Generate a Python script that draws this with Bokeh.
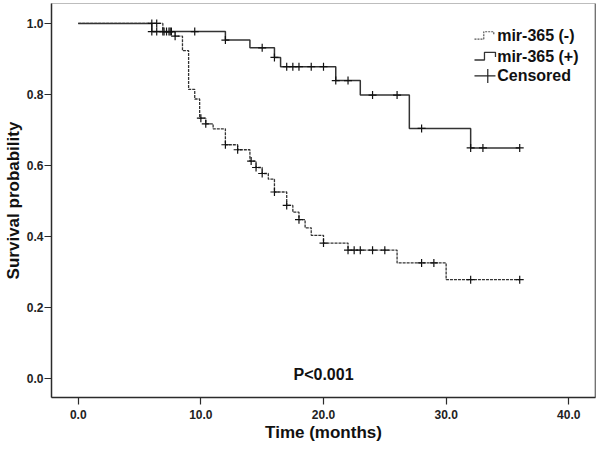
import numpy as np
from bokeh.plotting import figure
from bokeh.models import Range1d, FixedTicker, PrintfTickFormatter, Span
from bokeh.core.properties import value
from bokeh.embed import file_html
from bokeh.resources import INLINE

# ---- data ----
neg_times = [0, 6.9, 7.9, 8.5, 9.0, 9.5, 9.9, 10.4, 11.0, 12.0, 13.0, 14.0, 14.5, 15.0,
             15.5, 16.0, 17.0, 17.5, 18.0, 18.5, 19.0, 20.0, 22.0, 26.0, 30.0, 36.0]
neg_surv = [1.0, 0.977, 0.964, 0.923, 0.814, 0.787, 0.733, 0.717, 0.703, 0.658, 0.644, 0.612,
            0.594, 0.577, 0.561, 0.525, 0.487, 0.468, 0.447, 0.424, 0.403, 0.381, 0.361,
            0.325, 0.278, 0.278]
neg_censor = [6.0, 6.4, 6.9, 7.2, 7.5, 7.9, 10.0, 10.4, 12.0, 13.0, 14.1, 14.5, 15.0, 16.0,
              17.0, 18.0, 20.0, 22.0, 22.5, 23.0, 24.0, 25.0, 28.0, 29.0, 32.0, 36.0]

pos_times = [0, 6.0, 12.0, 14.0, 16.0, 16.5, 21.0, 23.0, 27.0, 32.0, 36.0]
pos_surv = [1.0, 0.977, 0.953, 0.931, 0.904, 0.878, 0.839, 0.798, 0.704, 0.649, 0.649]
pos_censor = [6.0, 6.4, 7.0, 7.4, 7.6, 9.5, 12.0, 15.0, 16.0, 17.0, 17.5, 18.0, 19.0, 20.0,
              21.0, 22.0, 24.0, 26.0, 28.0, 32.0, 33.0, 36.0]

x_ticks = [0, 10, 20, 30, 40]
y_ticks = [0.0, 0.2, 0.4, 0.6, 0.8, 1.0]
legend_labels = ["mir-365 (-)", "mir-365 (+)", "Censored"]
p_text = "P<0.001"


def surv_at(times, surv, t):
    idx = np.searchsorted(np.array(times), np.array(t), side="right") - 1
    return list(np.array(surv)[idx])


FONT = value("Liberation Sans")
INK = "#2b2b2b"
X_END = 42.18

p = figure(width=597, height=444, output_backend="svg", toolbar_location=None,
           min_border_left=40, min_border_right=2, min_border_top=3, min_border_bottom=40,
           x_range=Range1d(-2.18, X_END), y_range=Range1d(-0.054, 1.056))

p.xgrid.visible = False
p.ygrid.visible = False
p.background_fill_color = "white"
p.border_fill_color = "white"
p.outline_line_color = "#bdbdbd"
p.outline_line_width = 1

for ax in (p.xaxis[0], p.yaxis[0]):
    ax.axis_line_color = INK
    ax.axis_line_width = 1.5
    ax.major_tick_line_color = INK
    ax.major_tick_line_width = 1.2
    ax.major_tick_in = 0
    ax.major_tick_out = 7
    ax.minor_tick_line_color = None
    ax.major_label_text_font = "Liberation Sans"
    ax.major_label_text_font_style = "bold"
    ax.major_label_text_font_size = "12px"
    ax.major_label_text_color = "#222222"
    ax.axis_label_text_font = "Liberation Sans"
    ax.axis_label_text_font_style = "bold"
    ax.axis_label_text_font_size = "17px"
    ax.axis_label_text_color = "#111111"
    ax.formatter = PrintfTickFormatter(format="%.1f")

p.xaxis.ticker = FixedTicker(ticks=x_ticks)
p.yaxis.ticker = FixedTicker(ticks=y_ticks)
p.xaxis.axis_label = "Time (months)"
p.yaxis.axis_label = "Survival probability"
p.xaxis.major_label_standoff = 5
p.yaxis.major_label_standoff = 1
p.xaxis.axis_label_standoff = 1
p.yaxis.axis_label_standoff = 1

# right frame edge dark
p.add_layout(Span(location=X_END, dimension="height", line_color=INK, line_width=1.5))

# curves
p.step(neg_times, neg_surv, mode="after", line_color="#333333", line_width=1.3,
       line_dash="3 1")
p.step(pos_times, pos_surv, mode="after", line_color="#333333", line_width=1.5)

# censor marks
p.scatter(neg_censor, surv_at(neg_times, neg_surv, neg_censor), marker="cross", size=8,
          line_color="#111111", line_width=1.2)
p.scatter(pos_censor, surv_at(pos_times, pos_surv, pos_censor), marker="cross", size=8,
          line_color="#111111", line_width=1.2)


# ---- legend drawn by hand (pixel layout mapped to data space) ----
def px_x(px):
    return (px - 77.7) / 12.265


def px_y(py):
    return (379.0 - py) / 355.7


p.line([px_x(474), px_x(483.3), px_x(483.3), px_x(493.3), px_x(493.3)],
       [px_y(39), px_y(39), px_y(31.7), px_y(31.7), px_y(35)],
       line_color="#555555", line_width=1.2, line_dash="2 1")
p.line([px_x(474), px_x(484), px_x(484), px_x(495), px_x(495)],
       [px_y(60), px_y(60), px_y(52.3), px_y(52.3), px_y(57)],
       line_color="#333333", line_width=1.3)
p.line([px_x(474), px_x(495)], [px_y(76), px_y(76)], line_color="#222222", line_width=1.2)
p.line([px_x(487.3), px_x(487.3)], [px_y(69), px_y(83)], line_color="#222222", line_width=1.2)

p.text(x=[px_x(496.7)] * 3, y=[px_y(35.7), px_y(56.7), px_y(76)], text=legend_labels,
       text_font=FONT, text_font_style="bold", text_font_size="16px",
       text_baseline="middle", text_align="left", text_color="#111111")

p.text(x=[20.0], y=[px_y(375)], text=[p_text], text_font=FONT, text_font_style="bold",
       text_font_size="16px", text_baseline="middle", text_align="center",
       text_color="#111111")

open("out.html", "w").write(file_html(p, INLINE))
